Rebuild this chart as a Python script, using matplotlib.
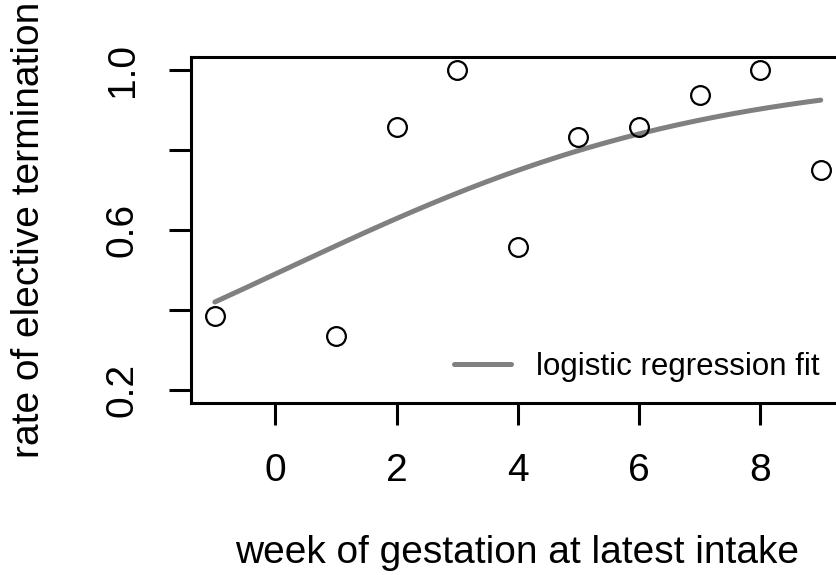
import numpy as np
import matplotlib
matplotlib.use('Agg')
from matplotlib import pyplot as plt

plt.rcParams['font.family'] = ['Liberation Sans', 'DejaVu Sans']

# observed rates by week
week = [-1, 1, 2, 3, 4, 5, 6, 7, 8, 9]
rate = [0.385, 0.335, 0.857, 1.0, 0.557, 0.832, 0.857, 0.937, 1.0, 0.75]

# logistic fit coefficients
fit_intercept = -0.04
fit_slope = 0.2835

yticks = [0.2, 0.4, 0.6, 0.8, 1.0]
yticklabels = ['0.2', '', '0.6', '', '1.0']
xticks = [0, 2, 4, 6, 8]

fig = plt.figure(figsize=(8.36, 5.75), dpi=100)
ax = fig.add_axes([0.228, 0.2997, 0.7827, 0.6006])

xs = np.linspace(min(week), max(week), 200)
ys = 1 / (1 + np.exp(-(fit_intercept + fit_slope * xs)))
ax.plot(xs, ys, color='#808080', lw=3.6, solid_capstyle='round',
        label='logistic regression fit')
ax.plot(week, rate, 'o', mfc='none', mec='black', ms=13.5, mew=1.6)

ax.set_xlim(-1.4, 9.4)
ax.set_ylim(0.168, 1.032)
ax.set_xticks(xticks)
ax.set_yticks(yticks)
ax.set_yticklabels(yticklabels, rotation=90, va='center')
ax.tick_params(axis='both', length=16, width=2.2, labelsize=28, direction='out')
ax.tick_params(axis='x', pad=20)
ax.tick_params(axis='y', pad=20)
for s in ax.spines.values():
    s.set_linewidth(2.2)

fig.text(29/836, 0.6, 'rate of elective termination', rotation=90,
         ha='center', va='center', fontsize=28)
fig.text(517/836, 1 - 553/575, 'week of gestation at latest intake',
         ha='center', va='center', fontsize=28)

ax.legend(loc='center left', bbox_to_anchor=(0.402, 0.103), frameon=False,
          fontsize=22.5, handlelength=1.85, handletextpad=0.8, borderpad=0,
          borderaxespad=0)

fig.savefig('out.png', dpi=100)
